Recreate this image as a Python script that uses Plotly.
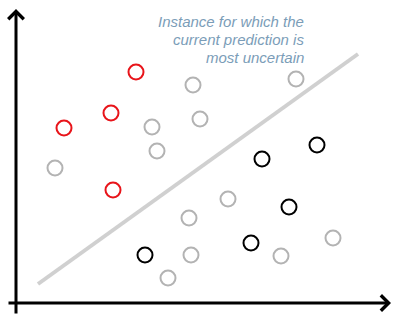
import plotly.graph_objects as go

# Data (feature space; y measured upward)
red_x = [136, 111, 64, 113]
red_y = [243, 202, 187, 125]

gray_x = [193, 296, 152, 200, 157, 55, 228, 189, 191, 168, 281, 333]
gray_y = [230, 236, 188, 196, 164, 147, 116, 97, 60, 37, 59, 77]

black_x = [262, 317, 289, 251, 145]
black_y = [156, 170, 108, 72, 60]

boundary_x = [38, 358]
boundary_y = [31, 261]

label_lines = ["Instance for which the", "current prediction is", "most uncertain"]

W, H = 393, 315

fig = go.Figure()
fig.add_trace(go.Scatter(x=boundary_x, y=boundary_y, mode="lines",
                         line=dict(color="#d0d0d0", width=4), hoverinfo="skip"))
fig.add_trace(go.Scatter(x=gray_x, y=gray_y, mode="markers",
                         marker=dict(symbol="circle-open", size=15, color="#b3b3b3",
                                     line=dict(width=2, color="#b3b3b3"))))
fig.add_trace(go.Scatter(x=red_x, y=red_y, mode="markers",
                         marker=dict(symbol="circle-open", size=15, color="#e8141a",
                                     line=dict(width=2, color="#e8141a"))))
fig.add_trace(go.Scatter(x=black_x, y=black_y, mode="markers",
                         marker=dict(symbol="circle-open", size=15, color="#000000",
                                     line=dict(width=2, color="#000000"))))

# axes with arrows
fig.add_annotation(x=16, y=H - 9, ax=16, ay=0, xref="x", yref="y", axref="x", ayref="y",
                   showarrow=True, arrowhead=4, arrowsize=1, arrowwidth=3, arrowcolor="black", text="")
fig.add_annotation(x=391, y=H - 303, ax=7, ay=H - 303, xref="x", yref="y", axref="x", ayref="y",
                   showarrow=True, arrowhead=4, arrowsize=1, arrowwidth=3, arrowcolor="black", text="")

for i, line in enumerate(label_lines):
    fig.add_annotation(x=305, y=H - (21 + 18 * i), xref="x", yref="y", xanchor="right", yanchor="middle",
                       text="<i>" + line + "</i>", showarrow=False, align="right", borderpad=0,
                       font=dict(family="Liberation Sans, Arial, sans-serif", size=15, color="#7b9db8"))

fig.update_layout(width=W, height=H, margin=dict(l=0, r=0, t=0, b=0),
                  plot_bgcolor="white", paper_bgcolor="white", showlegend=False,
                  xaxis=dict(range=[0, W], visible=False, fixedrange=True),
                  yaxis=dict(range=[0, H], visible=False, fixedrange=True))
fig.write_html("out.html", config={"displayModeBar": False},
               post_script="document.body.style.margin='0';document.body.style.overflow='hidden';")
